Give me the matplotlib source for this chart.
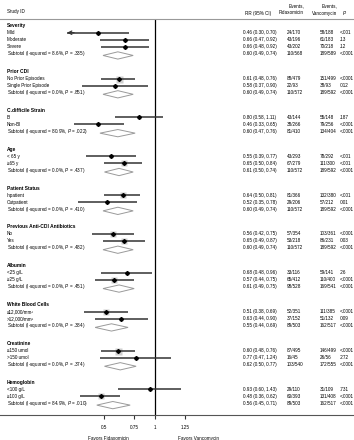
import numpy as np
import matplotlib
matplotlib.use("Agg")
import matplotlib.pyplot as plt
import matplotlib.transforms as mtransforms

plt.rcParams['font.family'] = ['Liberation Sans', 'DejaVu Sans']
plt.rcParams['mathtext.fontset'] = 'custom'
plt.rcParams['mathtext.rm'] = 'Liberation Sans'
plt.rcParams['mathtext.it'] = 'Liberation Sans:italic'

# ---- data ----
group_names = ['Severity', 'Prior CDI', 'C.difficile Strain', 'Age', 'Patient Status',
               'Previous Anti-CDI Antibiotics', 'Albumin', 'White Blood Cells',
               'Creatinine', 'Hemoglobin']

row_labels = [['Mild', 'Moderate', 'Severe'],
              ['No Prior Episodes', 'Single Prior Episode'],
              ['BI', 'Non-BI'],
              ['< 65 y', '\u226565 y'],
              ['Inpatient', 'Outpatient'],
              ['No', 'Yes'],
              ['<25 g/L', '\u226525 g/L'],
              ['\u226412,000/mm\u00b3', '>12,000/mm\u00b3'],
              ['\u2264150 umol', '>150 umol'],
              ['<100 g/L', '\u2265100 g/L']]
row_rr = [[0.46, 0.66, 0.66], [0.61, 0.58], [0.80, 0.46], [0.55, 0.65], [0.64, 0.52],
          [0.56, 0.65], [0.68, 0.57], [0.51, 0.63], [0.60, 0.77], [0.93, 0.48]]
row_lo = [[0.30, 0.47, 0.48], [0.48, 0.37], [0.58, 0.33], [0.39, 0.50], [0.50, 0.35],
          [0.42, 0.49], [0.48, 0.44], [0.38, 0.44], [0.48, 0.47], [0.60, 0.36]]
row_hi = [[0.70, 0.92, 0.92], [0.76, 0.90], [1.11, 0.65], [0.77, 0.84], [0.81, 0.78],
          [0.75, 0.87], [0.96, 0.75], [0.69, 0.90], [0.76, 1.24], [1.43, 0.62]]
row_fid = [['24/170', '43/196', '43/202'], ['88/479', '22/93'], ['43/144', '38/266'],
           ['43/293', '67/279'], ['81/366', '29/206'], ['57/354', '53/218'],
           ['33/116', '65/412'], ['52/351', '37/152'], ['87/495', '16/45'], ['29/110', '60/393']]
row_van = [['58/188', '61/183', '70/218'], ['151/499', '38/93'], ['55/148', '79/256'],
           ['78/292', '111/300'], ['132/380', '57/212'], ['103/361', '86/231'],
           ['59/141', '110/400'], ['111/385', '51/132'], ['146/499', '26/56'], ['31/109', '131/408']]
row_p = [['<.001', '.13', '.12'], ['<.0001', '.012'], ['.187', '<.0001'], ['<.001', '<.001'],
         ['<.001', '.001'], ['<.0001', '.003'], ['.26', '<.0001'], ['<.0001', '.009'],
         ['<.0001', '.272'], ['.731', '<.0001']]

sub_i2 = ['8.6%', '0.0%', '80.9%', '0.0%', '0.0%', '0.0%', '0.0%', '0.0%', '0.0%', '84.9%']
sub_phet = ['.335', '.851', '.022', '.437', '.410', '.482', '.451', '.384', '.374', '.010']
sub_rr = [0.60, 0.60, 0.60, 0.61, 0.60, 0.60, 0.61, 0.55, 0.62, 0.56]
sub_lo = [0.49, 0.49, 0.47, 0.50, 0.49, 0.49, 0.49, 0.44, 0.50, 0.45]
sub_hi = [0.74, 0.74, 0.76, 0.74, 0.74, 0.74, 0.75, 0.69, 0.77, 0.71]
sub_fid = ['110/568', '110/572', '81/410', '110/572', '110/572', '110/572', '98/528',
           '89/503', '103/540', '89/503']
sub_van = ['189/589', '189/592', '134/404', '189/592', '189/592', '189/592', '169/541',
           '162/517', '172/555', '162/517']
sub_p = ['<.0001'] * 10

tick_vals = [0.5, 0.75, 1, 1.5]
tick_text = ['0.5', '0.75', '1', '1.25']

# ---- layout ----
W, H = 354, 440
FS = 3.3
ROW_GAP = 2.55
X_FLOOR = 0.30
LINE_C = '#333333'

fig = plt.figure(figsize=(W / 100, H / 100), dpi=100)
ax = fig.add_axes([0, 1 - 415 / H, 1, (415 - 19) / H])
ax.set_xscale('log')
ax.set_xlim(0.12, 15.1)
ax.set_ylim(55.61, -0.957)

tr = mtransforms.blended_transform_factory(fig.transFigure, ax.transData)


def col(px):
    return px / W


def put_row_text(y, label, rr_txt, fid, van, p, bold=False):
    ax.text(col(7), y, label, transform=tr, fontsize=FS + (0.2 if bold else 0), va='center',
            fontweight='bold' if bold else 'normal')
    if rr_txt is None:
        return
    ax.text(col(243), y, rr_txt, transform=tr, fontsize=FS, va='center')
    ax.text(col(287), y, fid, transform=tr, fontsize=FS, va='center')
    ax.text(col(320), y, van, transform=tr, fontsize=FS, va='center')
    ax.text(col(340), y, p, transform=tr, fontsize=FS, va='center')


# weight of each study from its CI (inverse variance)
all_lo = np.array([v for g in row_lo for v in g])
all_hi = np.array([v for g in row_hi for v in g])
w_all = 1 / ((np.log(all_hi) - np.log(all_lo)) / 3.92) ** 2
w_max = w_all.max()

y = 0.0
for gi, gname in enumerate(group_names):
    put_row_text(y, gname, None, None, None, None, bold=True)
    y += 1
    for k, lab in enumerate(row_labels[gi]):
        rr, lo, hi = row_rr[gi][k], row_lo[gi][k], row_hi[gi][k]
        put_row_text(y, lab, f"{rr:.2f} ({lo:.2f}, {hi:.2f})",
                     row_fid[gi][k], row_van[gi][k], row_p[gi][k])
        w = 1 / ((np.log(hi) - np.log(lo)) / 3.92) ** 2
        side = 7 * np.sqrt(w / w_max) * 0.72
        ax.plot([rr], [y], marker='s', ms=side, color='#cfcfcf', mec='none',
                linestyle='none', zorder=2)
        left = max(lo, X_FLOOR)
        ax.hlines(y, left, hi, colors=LINE_C, linewidth=1.1, zorder=3)
        if lo <= X_FLOOR:
            ax.annotate('', xy=(X_FLOOR, y), xytext=(X_FLOOR * 1.1, y),
                        arrowprops=dict(arrowstyle='->', color=LINE_C, lw=0.9,
                                        shrinkA=0, shrinkB=0, mutation_scale=6),
                        zorder=3)
        ax.plot([rr], [y], marker='D', ms=2.0, color='black', linestyle='none', zorder=4)
        y += 1
    rr, lo, hi = sub_rr[gi], sub_lo[gi], sub_hi[gi]
    put_row_text(y, f"Subtotal (I-squared = {sub_i2[gi]}, $\\mathit{{P}}$ = {sub_phet[gi]})",
                 f"{rr:.2f} ({lo:.2f}, {hi:.2f})", sub_fid[gi], sub_van[gi], sub_p[gi])
    yd = y + 0.25
    ax.fill([lo, rr, hi, rr], [yd, yd - 0.52, yd, yd + 0.52], facecolor='white',
            edgecolor='#9a9a9a', lw=0.7, zorder=3)
    y += ROW_GAP

ax.axvline(1, color='black', lw=0.9, zorder=1)

for s in ['left', 'right']:
    ax.spines[s].set_visible(False)
ax.spines['top'].set_color('#999999')
ax.spines['top'].set_linewidth(0.8)
ax.spines['bottom'].set_color('#555555')
ax.spines['bottom'].set_linewidth(0.8)
ax.set_yticks([])
ax.set_xticks(tick_vals)
ax.set_xticklabels(tick_text)
ax.xaxis.set_minor_locator(matplotlib.ticker.NullLocator())
ax.tick_params(axis='x', length=3, width=0.8, color='#333333', labelsize=FS, pad=4.0)

# headers
fig.text(col(7), 1 - 12 / H, 'Study ID', fontsize=FS, va='center')
fig.text(col(245), 1 - 13 / H, 'RR (95% CI)', fontsize=FS, va='center')
fig.text(col(304), 1 - 6 / H, 'Events,', fontsize=FS, va='center', ha='right')
fig.text(col(304), 1 - 13 / H, 'Fidaxomicin', fontsize=FS, va='center', ha='right')
fig.text(col(337), 1 - 6 / H, 'Events,', fontsize=FS, va='center', ha='right')
fig.text(col(337), 1 - 13 / H, 'Vancomycin', fontsize=FS, va='center', ha='right')
fig.text(col(342), 1 - 13 / H, '$\\mathit{P}$', fontsize=FS, va='center')

fig.text(col(108), 1 - 438 / H, 'Favors Fidaxomicin', fontsize=FS, va='center', ha='center')
fig.text(col(199), 1 - 438 / H, 'Favors Vancomycin', fontsize=FS, va='center', ha='center')

fig.savefig('out.png', dpi=100)
